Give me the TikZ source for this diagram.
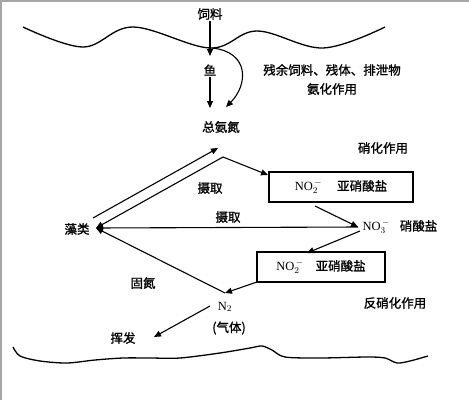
\documentclass[tikz,border=0pt]{standalone}
\usepackage{fontspec}
\setmainfont{Liberation Serif}
\newfontfamily\cjk[FakeBold=1.2]{Noto Sans CJK SC}
\usetikzlibrary{arrows.meta}
\begin{document}
\begin{tikzpicture}[x=1pt,y=-1pt,
  line width=1.1pt,
  >={Triangle[length=7pt,width=6pt]},
  lbl/.style={font=\cjk\fontsize{12.5}{13}\selectfont, inner sep=1pt},
  chem/.style={font=\fontsize{12.5}{13}\selectfont, inner sep=1pt},
  boxed/.style={draw, line width=1.1pt, inner sep=0pt, font=\fontsize{12.5}{13}\selectfont},
  frame/.style={draw=black!35, line width=1.5pt},
  wave/.style={line width=1.3pt}]
\useasboundingbox (0,0) rectangle (469,400);
\fill[white] (0,0) rectangle (469,400);
\draw[frame] (0,0.75) -- (469,0.75);
\draw[frame] (0.75,0) -- (0.75,400);

% water surface and bottom
\draw[wave] plot[smooth, tension=0.6] coordinates {(23,27) (83,47) (133,27) (210,48) (257,31) (323,48) (385,27)};
\draw[wave] plot[smooth, tension=0.5] coordinates {(13,347) (20,356) (40,361) (67,363) (95,360) (123,358) (150,358) (180,358) (220,353) (250,348) (262,346) (272,350) (285,357) (320,358) (367,357) (385,358) (397,363) (410,361) (428,356)};

% nodes
\node[lbl] (feed) at (210,14) {饲料};
\node[lbl] (fish) at (210,70) {鱼};
\node[lbl] (tan) at (221,127) {总氨氮};
\node[lbl] (resid) at (332,70) {残余饲料、残体、排泄物};
\node[lbl] (ammon) at (332,89) {氨化作用};
\node[lbl] (nitr) at (383,148) {硝化作用};
\node[boxed, minimum width=144pt, minimum height=30pt] (box1) at (341,187) {NO$_2^{\,-}$\hspace{15pt}{\cjk 亚硝酸盐}};
\node[lbl] (upt1) at (210,188) {摄取};
\node[lbl] (upt2) at (228,217) {摄取};
\node[lbl] (algae) at (77,229) {藻类};
\node[chem, anchor=west] (no3) at (361,227) {NO$_3^{\,-}$\hspace{10pt}{\cjk 硝酸盐}};
\node[boxed, minimum width=128pt, minimum height=30pt] (box2) at (321,267) {NO$_2^{\,-}$\hspace{12pt}{\cjk 亚硝酸盐}};
\node[lbl] (fix) at (143,283) {固氮};
\node[lbl] (denit) at (395,303) {反硝化作用};
\node[chem] (n2) at (225,307) {N$_2$};
\node[lbl] (gas) at (229,328) {(气体)};
\node[lbl] (vol) at (123,338) {挥发};

% connector points
\coordinate (feedin) at (210,56);
\coordinate (surf) at (212,48);
\coordinate (tanin) at (210,108);
\coordinate (tanin2) at (226,107);
\coordinate (alg) at (96,228);
\coordinate (algout) at (93,218);
\coordinate (tanup) at (218,148);
\coordinate (v) at (223,157);
\coordinate (box1in) at (268,175);
\coordinate (box1out) at (315,206);
\coordinate (nthree) at (358,227);
\coordinate (no3out) at (360,231);
\coordinate (box2in) at (307,253);
\coordinate (box2out) at (257,282);
\coordinate (n2in) at (225,293);
\coordinate (n2out) at (210,306);
\coordinate (volin) at (154,337);

% connectors
\draw[->] (feed.south) -- (feedin);
\draw[->] (fish.south) -- (tanin);
\draw[->] (surf) .. controls (250,52) and (248,85) .. (tanin2);
\draw[->] (algout) -- (tanup);
\draw[->] (v) -- (alg);
\draw[->] (v) -- (box1in);
\draw[->] (box1out) -- (nthree);
\draw[->] (nthree) -- (alg);
\draw[->] (no3out) -- (box2in);
\draw[->] (box2out) -- (n2in);
\draw[->] (n2in) -- (alg);
\draw[->] (n2out) -- (volin);
\end{tikzpicture}
\end{document}
